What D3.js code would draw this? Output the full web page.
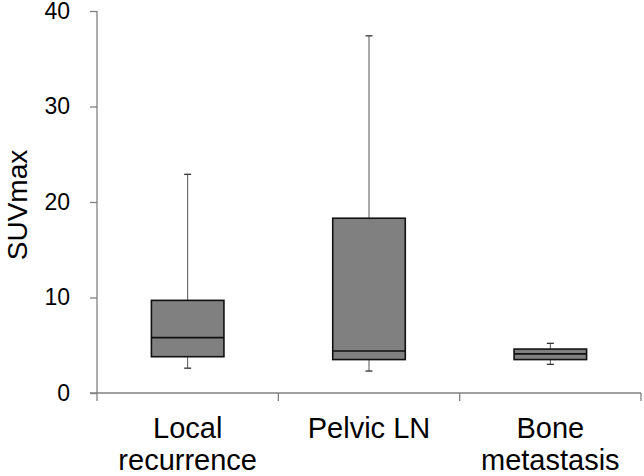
<!DOCTYPE html>
<html>
<head>
<meta charset="utf-8">
<script src="https://cdn.jsdelivr.net/npm/d3@7"></script>
<style>
  html, body { margin: 0; padding: 0; background: #fff; }
  svg { display: block; font-family: "Liberation Sans", Arial, sans-serif; }
</style>
</head>
<body>
<svg id="chart" width="644" height="476"></svg>
<script>
// ---- data ----
const categories = ["Local recurrence", "Pelvic LN", "Bone metastasis"];
const categoryLines = [["Local", "recurrence"], ["Pelvic LN"], ["Bone", "metastasis"]];
const whiskerLow  = [2.6, 2.3, 3.0];
const q1          = [3.8, 3.5, 3.5];
const median      = [5.8, 4.4, 4.1];
const q3          = [9.7, 18.3, 4.6];
const whiskerHigh = [22.9, 37.4, 5.2];
const yTicks = [0, 10, 20, 30, 40];
const yTitle = "SUVmax";

// ---- layout ----
const svg = d3.select("#chart");
const plotLeft = 97, plotRight = 641, plotTop = 11, plotBottom = 393;

const x = d3.scaleBand().domain(categories).range([plotLeft, plotRight]).paddingInner(0).paddingOuter(0);
const y = d3.scaleLinear().domain([0, 40]).range([plotBottom, plotTop]);

const axisColor = "#808080";

// y axis
const yAxis = svg.append("g").attr("transform", `translate(${plotLeft},0)`)
  .call(d3.axisLeft(y).tickValues(yTicks).tickSize(7).tickPadding(20).tickSizeOuter(0));
yAxis.select(".domain").remove();
yAxis.selectAll(".tick line").attr("stroke", axisColor).attr("stroke-width", 1.3);
yAxis.selectAll(".tick text").attr("font-size", 23).attr("fill", "#000")
  .attr("font-family", "'Liberation Sans', Arial, sans-serif");
svg.append("line").attr("x1", plotLeft).attr("x2", plotLeft).attr("y1", plotTop).attr("y2", plotBottom + 8)
  .attr("stroke", axisColor).attr("stroke-width", 1.3);

// x axis line + band boundary ticks
svg.append("line").attr("x1", plotLeft - 7).attr("x2", plotRight).attr("y1", plotBottom).attr("y2", plotBottom)
  .attr("stroke", axisColor).attr("stroke-width", 1.3);
const boundaries = categories.map(c => x(c) + x.bandwidth());
svg.selectAll(".xtick").data(boundaries).join("line")
  .attr("x1", d => d).attr("x2", d => d).attr("y1", plotBottom).attr("y2", plotBottom + 8)
  .attr("stroke", axisColor).attr("stroke-width", 1.3);

// category labels
categories.forEach((c, i) => {
  const cx = x(c) + x.bandwidth() / 2;
  const t = svg.append("text").attr("x", cx).attr("y", 438)
    .attr("text-anchor", "middle").attr("font-size", 29).attr("fill", "#000");
  categoryLines[i].forEach((ln, j) => {
    t.append("tspan").attr("x", cx).attr("dy", j === 0 ? 0 : 32).text(ln);
  });
});

// y title
svg.append("text").attr("transform", `translate(27,${y(20) + 3}) rotate(-90)`)
  .attr("text-anchor", "middle").attr("font-size", 28).attr("fill", "#000").text(yTitle);

// boxes
const boxW = x.bandwidth() * 0.4;
const capW = 7;
const g = svg.append("g");
categories.forEach((c, i) => {
  const cx = x(c) + x.bandwidth() / 2;
  g.append("line").attr("x1", cx).attr("x2", cx).attr("y1", y(whiskerHigh[i])).attr("y2", y(q3[i]))
    .attr("stroke", "#555").attr("stroke-width", 1);
  g.append("line").attr("x1", cx).attr("x2", cx).attr("y1", y(q1[i])).attr("y2", y(whiskerLow[i]))
    .attr("stroke", "#555").attr("stroke-width", 1);
  [whiskerHigh[i], whiskerLow[i]].forEach(v => {
    g.append("line").attr("x1", cx - capW / 2).attr("x2", cx + capW / 2).attr("y1", y(v)).attr("y2", y(v))
      .attr("stroke", "#333").attr("stroke-width", 1.3);
  });
  g.append("rect").attr("x", cx - boxW / 2).attr("width", boxW)
    .attr("y", y(q3[i])).attr("height", y(q1[i]) - y(q3[i]))
    .attr("fill", "#808080").attr("stroke", "#111").attr("stroke-width", 1.6);
  g.append("line").attr("x1", cx - boxW / 2).attr("x2", cx + boxW / 2)
    .attr("y1", y(median[i])).attr("y2", y(median[i]))
    .attr("stroke", "#111").attr("stroke-width", 1.6);
});
</script>
</body>
</html>
